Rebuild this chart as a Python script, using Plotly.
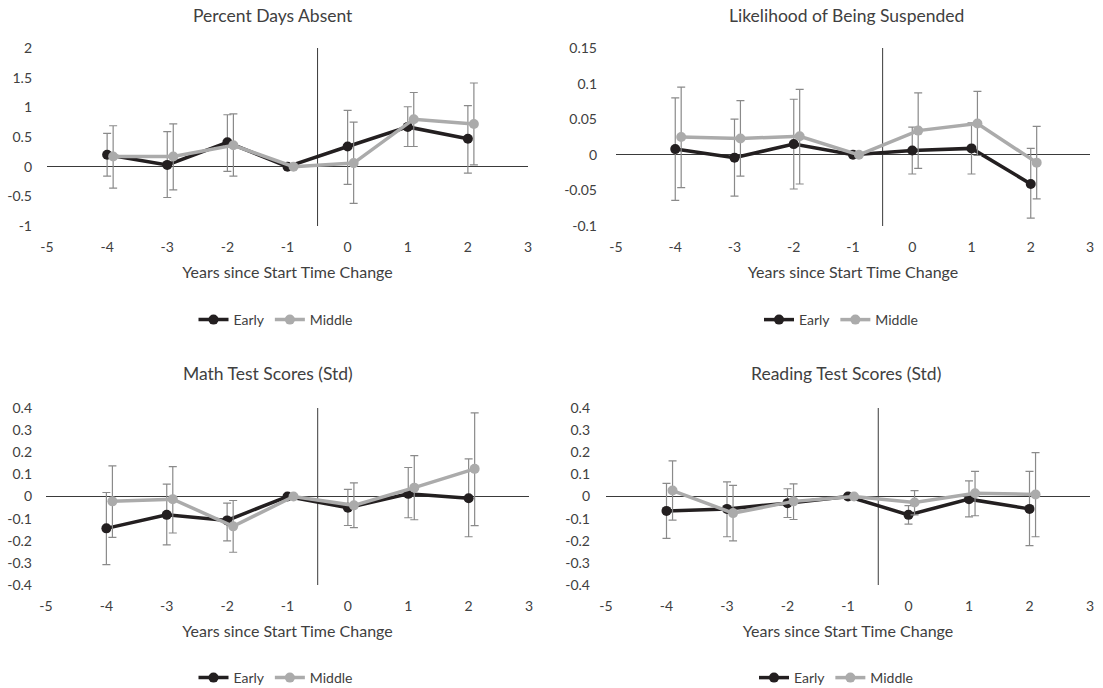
import plotly.graph_objects as go

# ---------------- data ----------------
years = [-4, -3, -2, -1, 0, 1, 2]
series_names = ["Early", "Middle"]
panel_titles = ["Percent Days Absent", "Likelihood of Being Suspended",
                "Math Test Scores (Std)", "Reading Test Scores (Std)"]
x_title = "Years since Start Time Change"
x_ticks = [-5, -4, -3, -2, -1, 0, 1, 2, 3]
x_ticklabels = ["-5", "-4", "-3", "-2", "-1", "0", "1", "2", "3"]

# Percent Days Absent
absent_early = [0.20, 0.03, 0.41, 0.0, 0.34, 0.67, 0.47]
absent_early_hi = [0.56, 0.59, 0.875, 0.0, 0.95, 1.01, 1.03]
absent_early_lo = [-0.16, -0.52, -0.08, 0.0, -0.30, 0.34, -0.11]
absent_middle = [0.17, 0.17, 0.36, 0.0, 0.06, 0.80, 0.72]
absent_middle_hi = [0.69, 0.72, 0.89, 0.0, 0.75, 1.25, 1.41]
absent_middle_lo = [-0.36, -0.39, -0.16, 0.0, -0.62, 0.34, 0.03]
absent_yticks = [-1, -0.5, 0, 0.5, 1, 1.5, 2]
absent_yticklabels = ["-1", "-0.5", "0", "0.5", "1", "1.5", "2"]

# Likelihood of Being Suspended
susp_early = [0.008, -0.004, 0.015, 0.0, 0.006, 0.009, -0.041]
susp_early_hi = [0.080, 0.050, 0.078, 0.0, 0.039, 0.045, 0.009]
susp_early_lo = [-0.064, -0.058, -0.048, 0.0, -0.027, -0.027, -0.089]
susp_middle = [0.025, 0.023, 0.026, 0.0, 0.034, 0.044, -0.011]
susp_middle_hi = [0.095, 0.076, 0.092, 0.0, 0.087, 0.089, 0.040]
susp_middle_lo = [-0.046, -0.030, -0.041, 0.0, -0.019, -0.001, -0.062]
susp_yticks = [-0.1, -0.05, 0, 0.05, 0.1, 0.15]
susp_yticklabels = ["-0.1", "-0.05", "0", "0.05", "0.1", "0.15"]

# Math Test Scores (Std)
math_early = [-0.144, -0.083, -0.108, 0.0, -0.051, 0.012, -0.008]
math_early_hi = [0.018, 0.056, -0.030, 0.0, 0.032, 0.131, 0.170]
math_early_lo = [-0.308, -0.219, -0.201, 0.0, -0.131, -0.096, -0.182]
math_middle = [-0.022, -0.012, -0.135, 0.0, -0.040, 0.040, 0.125]
math_middle_hi = [0.138, 0.135, -0.018, 0.0, 0.062, 0.185, 0.378]
math_middle_lo = [-0.185, -0.165, -0.252, 0.0, -0.141, -0.105, -0.132]

# Reading Test Scores (Std)
read_early = [-0.065, -0.056, -0.030, 0.0, -0.083, -0.012, -0.056]
read_early_hi = [0.059, 0.066, 0.035, 0.0, -0.041, 0.071, 0.114]
read_early_lo = [-0.189, -0.182, -0.095, 0.0, -0.125, -0.092, -0.222]
read_middle = [0.027, -0.075, -0.022, 0.0, -0.027, 0.015, 0.009]
read_middle_hi = [0.161, 0.050, 0.057, 0.0, 0.027, 0.114, 0.198]
read_middle_lo = [-0.107, -0.201, -0.104, 0.0, -0.083, -0.087, -0.182]
score_yticks = [-0.4, -0.3, -0.2, -0.1, 0, 0.1, 0.2, 0.3, 0.4]
score_yticklabels = ["-0.4", "-0.3", "-0.2", "-0.1", "0", "0.1", "0.2", "0.3", "0.4"]

# ---------------- styles / layout ----------------
W, H = 1103, 688
MIDDLE_OFFSET = 0.1
EVENT_LINE_X = -0.5
FONT = "Lato, 'Open Sans', sans-serif"
TEXT = "#404040"
COLORS = {"Early": "#231f20", "Middle": "#ababab"}
ERR_COLOR = "#8a8a8a"

panels = [
    dict(title=panel_titles[0],
         series=[(absent_early, absent_early_hi, absent_early_lo),
                 (absent_middle, absent_middle_hi, absent_middle_lo)],
         yr=[-1, 2], yt=absent_yticks, ytl=absent_yticklabels,
         xd=[47, 528], yd=[48, 226], tx=273, ty=15, ly=320, ys=14),
    dict(title=panel_titles[1],
         series=[(susp_early, susp_early_hi, susp_early_lo),
                 (susp_middle, susp_middle_hi, susp_middle_lo)],
         yr=[-0.1, 0.15], yt=susp_yticks, ytl=susp_yticklabels,
         xd=[616, 1090], yd=[48, 226], tx=846, ty=15, ly=320, ys=18),
    dict(title=panel_titles[2],
         series=[(math_early, math_early_hi, math_early_lo),
                 (math_middle, math_middle_hi, math_middle_lo)],
         yr=[-0.4, 0.4], yt=score_yticks, ytl=score_yticklabels,
         xd=[46, 529], yd=[408, 585], tx=268, ty=373, ly=678, ys=13),
    dict(title=panel_titles[3],
         series=[(read_early, read_early_hi, read_early_lo),
                 (read_middle, read_middle_hi, read_middle_lo)],
         yr=[-0.4, 0.4], yt=score_yticks, ytl=score_yticklabels,
         xd=[606, 1090], yd=[408, 585], tx=846, ty=373, ly=678, ys=15),
]

fig = go.Figure()
layout = dict(
    width=W, height=H,
    margin=dict(l=0, r=0, t=0, b=0, autoexpand=False),
    paper_bgcolor="white", plot_bgcolor="white",
    font=dict(family=FONT, size=14, color=TEXT),
    annotations=[], shapes=[],
)

for i, p in enumerate(panels):
    n = i + 1
    xa = "x" if n == 1 else f"x{n}"
    ya = "y" if n == 1 else f"y{n}"
    leg = "legend" if n == 1 else f"legend{n}"
    for (name, (vals, hi, lo)) in zip(series_names, p["series"]):
        off = MIDDLE_OFFSET if name == "Middle" else 0.0
        fig.add_trace(go.Scatter(
            x=[yv + off for yv in years], y=vals,
            mode="lines+markers", name=name,
            xaxis=xa, yaxis=ya, legend=leg,
            line=dict(color=COLORS[name], width=3.5),
            marker=dict(color=COLORS[name], size=10, symbol="circle"),
            error_y=dict(type="data", symmetric=False,
                         array=[h - v for h, v in zip(hi, vals)],
                         arrayminus=[v - l for v, l in zip(vals, lo)],
                         color=ERR_COLOR, thickness=1.2, width=4),
        ))
    xkey = "xaxis" if n == 1 else f"xaxis{n}"
    ykey = "yaxis" if n == 1 else f"yaxis{n}"
    xd = [p["xd"][0] / W, p["xd"][1] / W]
    yd = [1 - p["yd"][1] / H, 1 - p["yd"][0] / H]
    layout[xkey] = dict(
        domain=xd, anchor=ya, range=[-5, 3],
        tickmode="array", tickvals=x_ticks, ticktext=x_ticklabels,
        showgrid=False, zeroline=False, showline=False, ticks="",
        tickfont=dict(size=14, color=TEXT), ticklabelstandoff=11,
        title=dict(text=x_title, font=dict(size=16, color=TEXT), standoff=12),
    )
    layout[ykey] = dict(
        domain=yd, anchor=xa, range=p["yr"],
        tickmode="array", tickvals=p["yt"], ticktext=p["ytl"],
        showgrid=False, zeroline=True, zerolinecolor="#3a3a3a", zerolinewidth=1,
        showline=False, ticks="", ticklabelstandoff=p["ys"],
        tickfont=dict(size=14, color=TEXT),
    )
    layout["annotations"].append(dict(
        text=p["title"], xref="paper", yref="paper",
        x=p["tx"] / W, y=1 - p["ty"] / H, xanchor="center", yanchor="middle",
        showarrow=False, font=dict(size=17.5, color=TEXT, family=FONT),
    ))
    layout["shapes"].append(dict(
        type="line", xref=xa, yref=f"{ya} domain",
        x0=EVENT_LINE_X, x1=EVENT_LINE_X, y0=0, y1=1,
        line=dict(color="#3a3a3a", width=1), layer="below",
    ))
    layout[leg] = dict(
        orientation="h", x=(xd[0] + xd[1]) / 2 - 12 / W,
        y=1 - p["ly"] / H, xanchor="center", yanchor="middle",
        font=dict(size=14, color=TEXT), bgcolor="rgba(0,0,0,0)",
        itemwidth=30, tracegroupgap=0,
    )

fig.update_layout(**layout)
fig.write_html(
    "out.html",
    config={"displayModeBar": False},
    post_script="document.body.style.margin='0';document.body.style.overflow='hidden';",
)
